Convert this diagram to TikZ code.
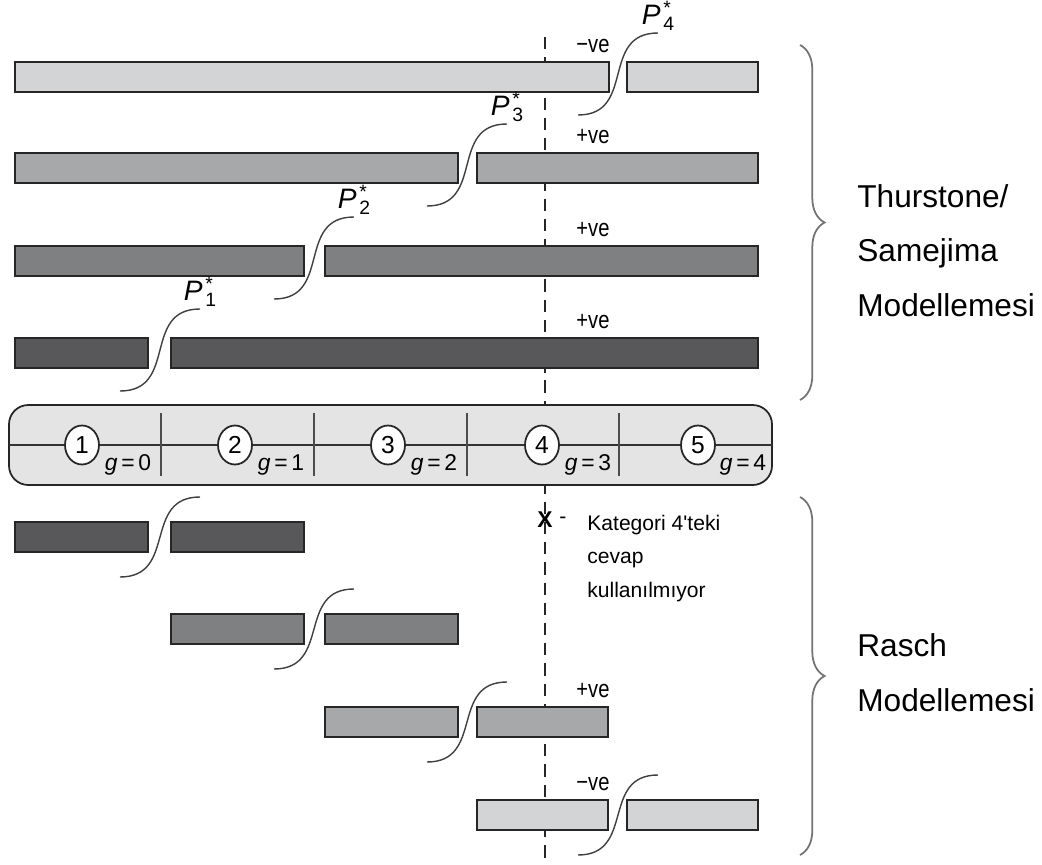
\documentclass[tikz,border=0pt]{standalone}
\usepackage{fontspec}
\setmainfont{Liberation Sans}
\usetikzlibrary{shapes.geometric, decorations.pathreplacing, calc}
\usepackage{xcolor}

\definecolor{barlight}{HTML}{D3D4D6}
\definecolor{barmidlight}{HTML}{A7A8AA}
\definecolor{barmiddark}{HTML}{7F8082}
\definecolor{bardark}{HTML}{58585A}
\definecolor{scalefill}{HTML}{E4E4E4}

\newcommand{\pstar}[1]{{\itshape P}\kern1.5pt\rlap{\raisebox{6pt}{\fontsize{11}{11}\selectfont *}}\raisebox{-3.2pt}{\fontsize{11}{11}\selectfont #1}}
\newcommand{\velabel}[1]{\scalebox{0.82}[1]{#1}}

\begin{document}
\begin{tikzpicture}[
  x=0.02cm, y=-0.02cm,
  %--- bar styles, one per shade ---
  bar/.style={draw=black!85, line width=1pt},
  barA/.style={bar, fill=barlight},
  barB/.style={bar, fill=barmidlight},
  barC/.style={bar, fill=barmiddark},
  barD/.style={bar, fill=bardark},
  %--- curves and labels ---
  scurve/.style={draw=black!75, line width=0.8pt, out=0, in=180, looseness=1.3},
  velbl/.style={font=\fontsize{14}{14}\selectfont, anchor=south, inner sep=1pt},
  pstarlbl/.style={font=\fontsize{16}{16}\selectfont, anchor=south, inner sep=1pt},
  catnum/.style={ellipse, draw=black!85, fill=white, line width=1pt,
    minimum width=0.68cm, minimum height=0.78cm, inner sep=0pt,
    font=\fontsize{14}{14}\selectfont},
  glbl/.style={font=\fontsize{13}{13}\selectfont, anchor=base, inner sep=0pt},
  sidetxt/.style={font=\fontsize{18}{31}\selectfont, align=left, anchor=base west, inner sep=0pt},
  mbrace/.style={decorate, decoration={brace, amplitude=14pt}, draw=black!55, line width=1pt}
]
\useasboundingbox (0,0) rectangle (1042,865);

%------------------------------------------------------------------
%  Category 4 threshold line (behind everything)
%------------------------------------------------------------------
\draw[black!85, line width=1.1pt, dash pattern=on 7pt off 4.5pt] (545,37) -- (545,865);

%------------------------------------------------------------------
%  Thurstone / Samejima bars
%------------------------------------------------------------------
\draw[barA] (15,62)  rectangle (609,92);
\draw[barA] (627,62) rectangle (758,92);
\draw[barB] (15,153)  rectangle (458,183);
\draw[barB] (477,153) rectangle (758,183);
\draw[barC] (15,246)  rectangle (304,276);
\draw[barC] (325,246) rectangle (758,276);
\draw[barD] (15,338)  rectangle (148,368);
\draw[barD] (171,338) rectangle (758,368);

\coordinate (t4) at (618,77);
\coordinate (t3) at (467,168);
\coordinate (t2) at (314,261);
\coordinate (t1) at (160,353);

\draw[scurve] ($(t4)+(-40,38)$) to ($(t4)+(40,-44)$) node[pstarlbl] (p4) {\pstar{4}};
\draw[scurve] ($(t3)+(-40,38)$) to ($(t3)+(40,-44)$) node[pstarlbl] (p3) {\pstar{3}};
\draw[scurve] ($(t2)+(-40,38)$) to ($(t2)+(40,-44)$) node[pstarlbl] (p2) {\pstar{2}};
\draw[scurve] ($(t1)+(-40,38)$) to ($(t1)+(40,-44)$) node[pstarlbl] (p1) {\pstar{1}};

\node[velbl] (ve1) at (593,55)  {\velabel{−ve}};
\node[velbl] (ve2) at (593,146) {\velabel{+ve}};
\node[velbl] (ve3) at (593,239) {\velabel{+ve}};
\node[velbl] (ve4) at (593,331) {\velabel{+ve}};

%------------------------------------------------------------------
%  Category scale
%------------------------------------------------------------------
\draw[fill=scalefill, draw=black!85, line width=1pt, rounded corners=11pt]
  (9,405) rectangle (772,485);
\draw[black!80, line width=0.8pt] (9,445) -- (772,445);
\draw[black!70, line width=0.9pt] (161,413) -- (161,476);
\draw[black!70, line width=0.9pt] (314,413) -- (314,476);
\draw[black!70, line width=0.9pt] (467,413) -- (467,476);
\draw[black!70, line width=0.9pt] (619,413) -- (619,476);

\node[catnum] (c1) at (82,445)  {1};
\node[catnum] (c2) at (235,445) {2};
\node[catnum] (c3) at (388,445) {3};
\node[catnum] (c4) at (542,445) {4};
\node[catnum] (c5) at (698,445) {5};

\node[glbl] (g0) at (128,470) {\textit{g}\,=\,0};
\node[glbl] (g1) at (281,470) {\textit{g}\,=\,1};
\node[glbl] (g2) at (434,470) {\textit{g}\,=\,2};
\node[glbl] (g3) at (588,470) {\textit{g}\,=\,3};
\node[glbl] (g4) at (743,470) {\textit{g}\,=\,4};

%------------------------------------------------------------------
%  Rasch bars
%------------------------------------------------------------------
\draw[barD] (15,522)  rectangle (148,552);
\draw[barD] (171,522) rectangle (304,552);
\draw[barC] (171,614) rectangle (304,644);
\draw[barC] (325,614) rectangle (458,644);
\draw[barB] (325,707) rectangle (458,737);
\draw[barB] (477,707) rectangle (608,737);
\draw[barA] (477,800) rectangle (608,830);
\draw[barA] (627,800) rectangle (758,830);

\coordinate (r1) at (160,537);
\coordinate (r2) at (314,629);
\coordinate (r3) at (467,722);
\coordinate (r4) at (618,815);

\draw[scurve] ($(r1)+(-40,40)$) to ($(r1)+(40,-40)$);
\draw[scurve] ($(r2)+(-40,40)$) to ($(r2)+(40,-40)$);
\draw[scurve] ($(r3)+(-40,40)$) to ($(r3)+(40,-40)$);
\draw[scurve] ($(r4)+(-40,40)$) to ($(r4)+(40,-40)$);

\node[velbl] (ve7) at (593,700) {\velabel{+ve}};
\node[velbl] (ve8) at (593,793) {\velabel{−ve}};

%------------------------------------------------------------------
%  Unused category note
%------------------------------------------------------------------
\node[font=\fontsize{13}{13}\selectfont\bfseries, inner sep=0pt] (xmark) at (545,520) {X};
\node[font=\fontsize{12}{12}\selectfont, inner sep=0pt] (xdash) at (563,520) {-};
% base anchor of a multi-line node sits on its last line
\node[font=\fontsize{12}{19}\selectfont, align=left, anchor=base west, inner sep=0pt]
  (note) at (587,597) {Kategori 4\textquotesingle teki\\cevap\\kullanılmıyor};

%------------------------------------------------------------------
%  Braces and model names
%------------------------------------------------------------------
\draw[mbrace] (800,45) -- (800,400);
\draw[mbrace] (800,497) -- (800,855);

\node[sidetxt] (thur)  at (857,316) {Thurstone/\\Samejima\\Modellemesi};
\node[sidetxt] (rasch) at (857,711) {Rasch\\Modellemesi};

\end{tikzpicture}
\end{document}
